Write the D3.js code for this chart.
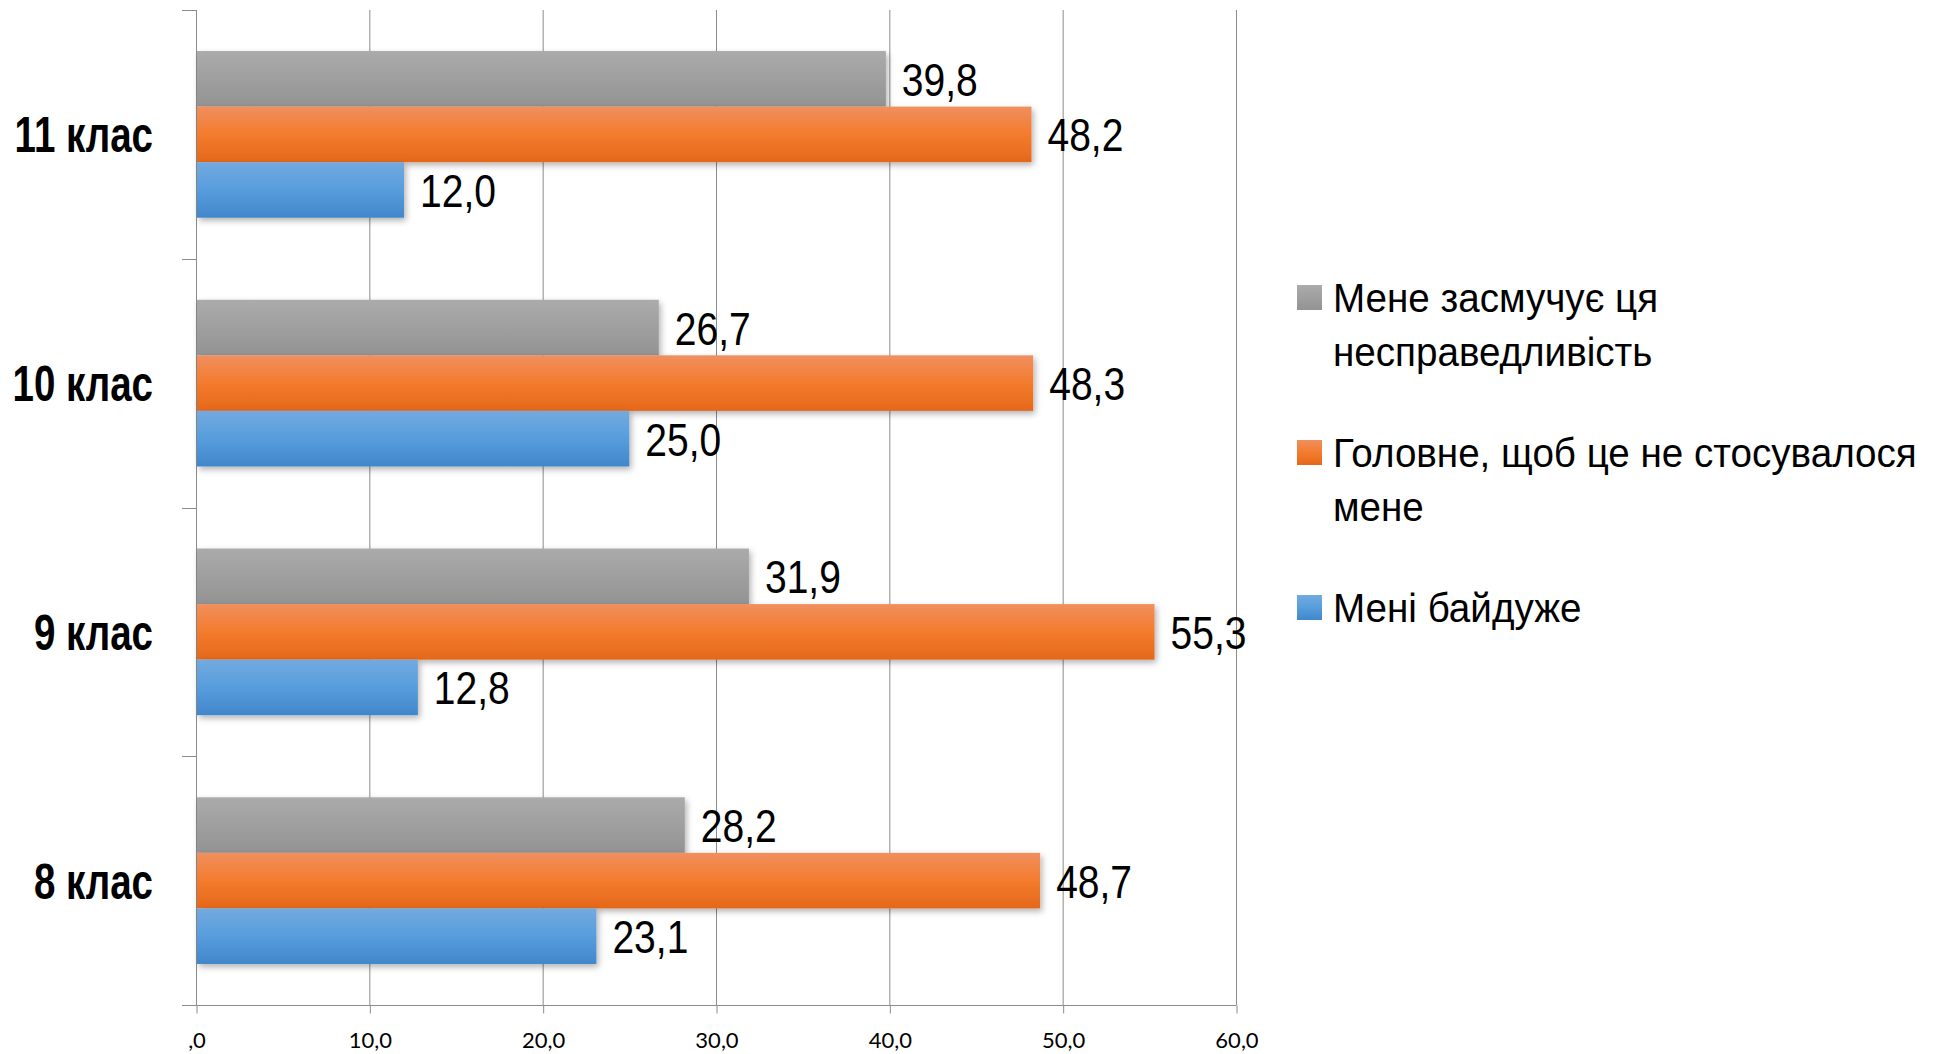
<!DOCTYPE html>
<html>
<head>
<meta charset="utf-8">
<script src="https://cdn.jsdelivr.net/npm/d3@7"></script>
<style>
  html, body { margin: 0; padding: 0; background: #ffffff; }
  svg { display: block; }
</style>
</head>
<body>
<svg id="chart" width="1937" height="1054"></svg>
<script>
// ---- data ----
const categories = ["11 клас", "10 клас", "9 клас", "8 клас"];
const seriesNames = [
  "Мене засмучує ця несправедливість",
  "Головне, щоб це не стосувалося мене",
  "Мені байдуже"
];
const seriesUpset = [39.8, 26.7, 31.9, 28.2];
const seriesNotMe = [48.2, 48.3, 55.3, 48.7];
const seriesIndifferent = [12.0, 25.0, 12.8, 23.1];
const tickValues = [0, 10, 20, 30, 40, 50, 60];
const tickLabels = [",0", "10,0", "20,0", "30,0", "40,0", "50,0", "60,0"];

(function () {
const seriesValues = [seriesUpset, seriesNotMe, seriesIndifferent];
const seriesKeys = ["s0", "s1", "s2"];
const gradients = [
  [["0%", "#ababab"], ["100%", "#939393"]],
  [["0%", "#f08f5f"], ["50%", "#f47b2d"], ["100%", "#e4681b"]],
  [["0%", "#73aadf"], ["50%", "#579ddd"], ["100%", "#4087cb"]]
];
const FONT = "'Liberation Sans', Arial, sans-serif";

const svg = d3.select("#chart");
const defs = svg.append("defs");
gradients.forEach((stops, i) => {
  const g = defs.append("linearGradient").attr("id", "grad" + i)
    .attr("x1", 0).attr("y1", 0).attr("x2", 0).attr("y2", 1);
  stops.forEach(s => g.append("stop").attr("offset", s[0]).attr("stop-color", s[1]));
});
const f = defs.append("filter").attr("id", "shadow")
  .attr("x", "-5%").attr("y", "-20%").attr("width", "115%").attr("height", "150%");
f.append("feDropShadow").attr("dx", 2).attr("dy", 3).attr("stdDeviation", 3)
  .attr("flood-color", "#000").attr("flood-opacity", 0.3);

const mLeft = 196, mRight = 1236, mTop = 10, mBottom = 1005;
const x = d3.scaleLinear().domain([0, 60]).range([mLeft, mRight]);
const y0 = d3.scaleBand().domain(categories).range([mTop, mBottom])
  .paddingInner(0.33).paddingOuter(0.165);
const y1 = d3.scaleBand().domain(seriesKeys).range([0, y0.bandwidth()]).padding(0);

const gridColor = "#8c8c8c";

// gridlines
svg.append("g").selectAll("line").data(tickValues.slice(1)).join("line")
  .attr("x1", d => x(d) + 0.5).attr("x2", d => x(d) + 0.5)
  .attr("y1", mTop).attr("y2", mBottom)
  .attr("stroke", gridColor).attr("stroke-width", 1);

// bottom axis
const xAxis = d3.axisBottom(x).tickValues(tickValues)
  .tickFormat((d, i) => tickLabels[i]).tickSizeInner(8).tickSizeOuter(0).tickPadding(19);
const gx = svg.append("g").attr("transform", `translate(0.5,${mBottom + 0.5})`).call(xAxis);
gx.select(".domain").remove();
gx.append("line").attr("x1", 182 - 0.5).attr("x2", mRight).attr("y1", 0).attr("y2", 0)
  .attr("stroke", gridColor);
gx.selectAll(".tick line").attr("stroke", gridColor);
gx.selectAll(".tick text").attr("font-family", "Lato, 'Open Sans', sans-serif")
  .attr("font-size", 22).attr("fill", "#000");

// left axis line and boundary ticks
svg.append("line").attr("x1", mLeft + 0.5).attr("x2", mLeft + 0.5)
  .attr("y1", mTop).attr("y2", mBottom).attr("stroke", gridColor);
const step = y0.step();
const boundaries = d3.range(categories.length + 1).map(i => mTop + i * step);
svg.append("g").selectAll("line").data(boundaries).join("line")
  .attr("x1", 182).attr("x2", mLeft).attr("y1", d => Math.round(d) + 0.5).attr("y2", d => Math.round(d) + 0.5)
  .attr("stroke", gridColor);

// bars
const rows = categories.map((c, ci) => ({
  cat: c,
  vals: seriesKeys.map((k, si) => ({ key: k, si, v: seriesValues[si][ci] }))
}));
const groups = svg.append("g").selectAll("g").data(rows).join("g")
  .attr("transform", d => `translate(0,${y0(d.cat)})`);
groups.selectAll("rect").data(d => d.vals).join("rect")
  .attr("x", x(0) + 1)
  .attr("y", d => y1(d.key))
  .attr("width", d => x(d.v) - x(0) - 1)
  .attr("height", y1.bandwidth())
  .attr("fill", d => `url(#grad${d.si})`)
  .attr("filter", "url(#shadow)");

const fmt = v => d3.format(".1f")(v).replace(".", ",");
groups.selectAll("text.val").data(d => d.vals).join("text")
  .attr("class", "val")
  .attr("transform", d => `translate(${x(d.v) + 16},${y1(d.key) + y1.bandwidth() / 2}) scale(0.83,1)`)
  .attr("dy", "0.36em")
  .attr("font-family", FONT)
  .attr("font-size", 47).attr("fill", "#000")
  .text(d => fmt(d.v));

// category labels
svg.append("g").selectAll("text").data(categories).join("text")
  .attr("transform", d => `translate(153,${y0(d) + y0.bandwidth() / 2}) scale(0.77,1)`)
  .attr("dy", "0.36em")
  .attr("text-anchor", "end")
  .attr("font-family", FONT)
  .attr("font-weight", "bold")
  .attr("font-size", 50).attr("fill", "#000")
  .text(d => d);

// legend
const legend = svg.append("g").attr("transform", "translate(1297,285)");
const maxW = 640, lineH = 54, itemGap = 155;
seriesNames.forEach((name, i) => {
  const g = legend.append("g").attr("transform", `translate(0,${i * itemGap})`);
  g.append("rect").attr("width", 25).attr("height", 25).attr("fill", `url(#grad${i})`);
  const t = g.append("text").attr("transform", "translate(36,27) scale(0.965,1)")
    .attr("font-family", FONT)
    .attr("font-size", 40).attr("fill", "#000");
  const words = name.split(" ");
  let line = [];
  let ts = t.append("tspan").attr("x", 0).attr("dy", 0);
  words.forEach(w => {
    line.push(w);
    ts.text(line.join(" "));
    if (ts.node().getComputedTextLength() > maxW && line.length > 1) {
      line.pop();
      ts.text(line.join(" "));
      line = [w];
      ts = t.append("tspan").attr("x", 0).attr("dy", lineH).text(w);
    }
  });
});
})();
</script>
</body>
</html>
